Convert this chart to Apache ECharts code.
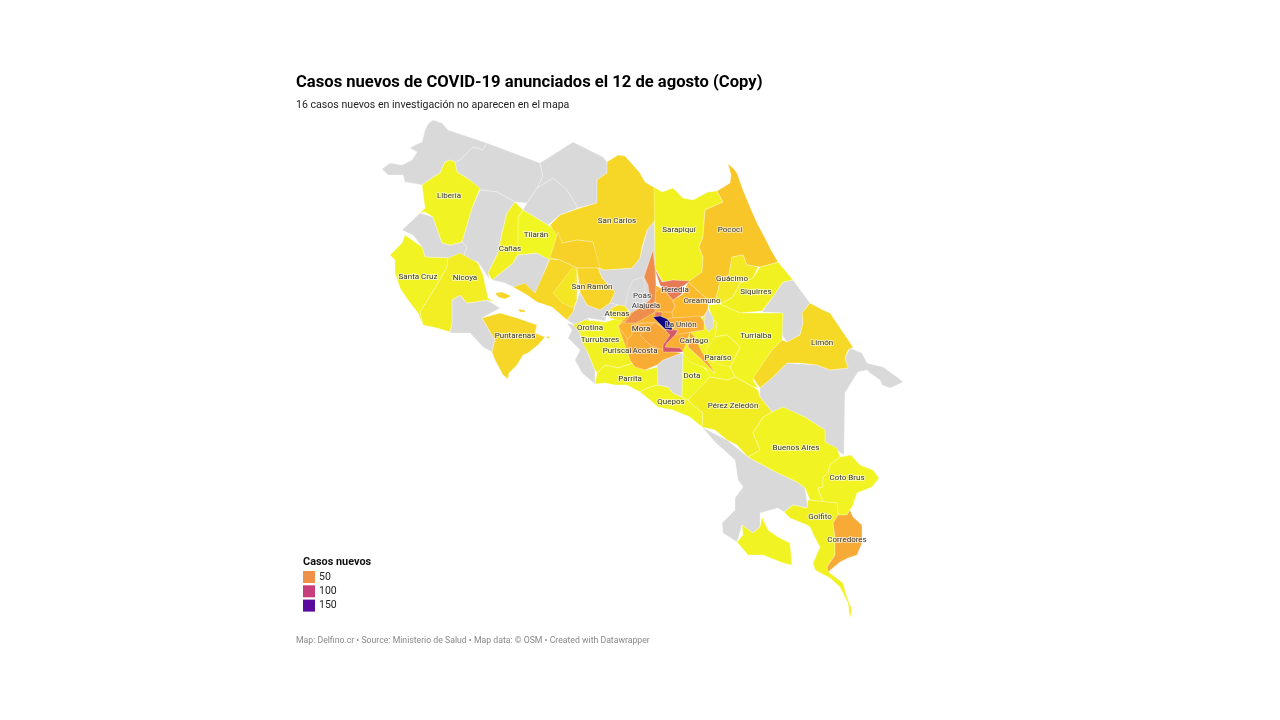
<!DOCTYPE html>
<html>
<head>
<meta charset="utf-8">
<title>Casos nuevos de COVID-19</title>
<script src="https://cdn.jsdelivr.net/npm/echarts@6/dist/echarts.min.js"></script>
<style>
  html, body { margin: 0; background: #fff; }
  #chart { width: 1280px; height: 720px; }
</style>
</head>
<body>
<div id="chart"></div>
<script>
// cases
var cantons = ['Liberia','Santa Cruz','Nicoya','Cañas','Tilarán','San Carlos','Sarapiquí','Pococí','Guácimo','Siquirres',
  'Heredia','Oreamuno','San Ramón','Alajuela','Atenas','Orotina','La Unión','Mora','Turrubares','Cartago',
  'Turrialba','Puriscal','Acosta','Paraíso','Limón','Puntarenas','Parrita','Dota','Quepos','Pérez Zeledón',
  'Buenos Aires','Coto Brus','Golfito','Corredores'];
var cases = [2,2,4,3,1,13,3,19,6,3,
  65,24,14,52,8,4,30,28,2,3,
  2,3,32,3,12,13,2,1,2,5,
  2,2,3,33];
// cantons without a label but with a colour
var otherCantons = ['Esparza','San Mateo','Zarcero','Osa Norte','Jiménez','San José','Desamparados','Vázquez de Coronado','Santa Bárbara','Franja Paraíso','Cartago Norte','Aserrí'];
var otherCases = [13,7,15,2,2,185,35,32,65,35,85,30];
var legendValues = [50,100,150];
var legendColors = ['#f0914a','#c73e7a','#5a0a9c'];
var scaleColors = ['#f0f921','#fcb62c','#f0914a','#df6a60','#c73e7a','#943ea0','#5a0a9c','#1a0a8a','#00007a'];

// hand traced outlines, in page pixels. gray ones first, they lie under the coloured ones
var outlines = {
  'La Cruz': [[382,169],[390,163],[402,165],[412,160],[417,152],[410,148],[415,145],[422,142],[425,130],[428,124],[433,120],[442,123],[448,130],[487,143],[483,150],[473,147],[460,160],[455,162],[450,160],[445,162],[440,173],[432,178],[422,185],[405,182],[403,175],[388,175]],
  'Upala': [[487,143],[540,163],[543,177],[537,188],[527,203],[515,202],[497,192],[480,190],[470,180],[457,172],[455,162],[460,160],[473,147],[483,150]],
  'Guatuso': [[537,188],[553,178],[567,190],[578,208],[560,215],[548,225],[523,210],[527,203]],
  'Los Chiles': [[540,163],[573,142],[603,157],[607,162],[607,173],[597,180],[597,203],[578,208],[567,190],[553,178],[537,188],[543,177]],
  'Bagaces': [[480,190],[497,192],[515,202],[507,213],[502,233],[498,253],[488,273],[490,280],[478,262],[462,260],[467,247],[462,242],[472,208]],
  'Carrillo': [[402,230],[420,213],[433,217],[442,243],[450,245],[462,242],[467,247],[462,260],[448,258],[425,257],[422,247],[413,235]],
  'Abangares': [[492,280],[513,263],[518,255],[537,253],[550,258],[543,275],[545,278],[535,293],[518,287],[513,287],[505,283]],
  'Nandayure': [[452,300],[460,295],[467,303],[475,302],[487,300],[500,308],[482,318],[495,340],[492,352],[483,347],[470,333],[450,333],[452,323]],
  'Grecia': [[598,268],[605,270],[632,268],[640,258],[647,230],[654,220],[656,268],[656,300],[640,312],[632,315],[625,306],[618,305],[610,303],[615,292],[602,278]],
  'Poás': [[633,280],[644,277],[645,292],[642,306],[632,314],[625,306],[628,292]],
  'Garabito': [[567,323],[575,325],[588,318],[592,328],[580,335],[585,343],[588,353],[595,370],[595,384],[582,373],[575,360],[580,350],[568,338],[572,330]],
  'Orotina Norte': [[577,300],[580,292],[587,305],[600,310],[610,303],[618,305],[612,308],[607,313],[605,321],[588,318],[575,325],[567,320],[573,312]],
  'Matina': [[793,280],[810,303],[802,313],[803,323],[800,335],[787,342],[782,335],[782,322],[783,313],[762,312],[772,298],[783,282]],
  'Talamanca': [[760,388],[773,377],[787,363],[817,365],[830,370],[848,368],[845,358],[850,348],[862,353],[867,363],[875,365],[883,367],[890,372],[897,377],[903,382],[895,386],[890,388],[882,385],[880,380],[870,373],[867,370],[858,372],[853,380],[845,393],[844,455],[825,442],[825,430],[805,417],[783,408],[772,412],[760,397]],
  'Osa': [[702,427],[713,433],[727,440],[748,457],[772,470],[797,482],[805,488],[808,508],[793,505],[784,512],[778,508],[760,513],[760,527],[753,533],[742,525],[737,542],[723,533],[722,523],[735,510],[735,498],[743,487],[738,480],[735,460],[715,442]],

  'Liberia': [[450,160],[455,162],[457,172],[470,180],[480,188],[472,208],[462,242],[450,245],[442,243],[433,217],[425,212],[420,213],[425,208],[422,185],[432,178],[440,173],[445,162]],
  'Santa Cruz': [[405,235],[422,247],[425,257],[448,258],[447,267],[437,285],[420,312],[423,325],[418,313],[408,300],[400,288],[395,273],[395,260],[390,255],[402,243]],
  'Nicoya': [[448,258],[460,253],[478,263],[483,275],[488,298],[495,302],[487,300],[475,302],[467,303],[460,295],[452,300],[452,323],[450,332],[437,328],[423,325],[420,312],[437,285],[447,267]],
  'Cañas': [[515,202],[523,210],[518,217],[518,254],[513,263],[492,280],[488,273],[498,253],[502,233],[507,213]],
  'Tilarán': [[523,210],[548,225],[558,232],[562,257],[550,260],[537,253],[518,255],[518,217]],
  'San Carlos': [[607,162],[618,155],[625,156],[640,173],[645,182],[655,188],[655,220],[647,230],[642,247],[640,258],[632,268],[605,270],[598,268],[593,242],[577,240],[562,243],[550,225],[560,215],[580,208],[597,203],[597,180],[607,173]],
  'Zarcero': [[562,243],[577,240],[593,242],[600,268],[577,268],[560,260],[550,258],[558,232]],
  'Esparza': [[513,287],[525,283],[535,293],[543,275],[550,259],[560,260],[577,268],[577,297],[573,312],[567,320],[552,307],[537,302],[527,295]],
  'San Mateo': [[553,293],[572,268],[577,270],[575,288],[577,300],[573,308],[562,303]],
  'San Ramón': [[577,268],[598,268],[602,278],[615,292],[610,303],[600,310],[587,305],[580,292]],
  'Orotina': [[573,325],[585,320],[605,322],[608,323],[608,328],[595,335],[580,333]],
  'Turrubares': [[580,333],[592,328],[606,322],[618,318],[626,322],[628,345],[630,357],[605,357],[603,363],[588,353],[593,347],[582,342]],
  'Atenas': [[607,312],[612,308],[618,305],[625,306],[630,313],[624,322],[618,320],[610,318]],
  'Puriscal': [[582,342],[628,340],[630,357],[633,363],[618,368],[605,365],[597,373],[595,370],[588,353]],
  'Parrita': [[595,384],[597,373],[605,365],[618,368],[633,363],[645,370],[658,367],[658,385],[647,388],[640,392],[627,385],[615,385],[605,383]],
  'Quepos': [[702,427],[690,417],[673,410],[658,407],[650,400],[640,392],[647,388],[658,385],[668,387],[673,393],[682,397],[688,400],[693,405],[703,413]],
  'Tarrazú': [[657,365],[663,360],[683,353],[682,397],[673,393],[668,387],[658,385]],
  'Dota': [[683,353],[688,358],[703,367],[712,375],[700,388],[688,400],[682,397]],
  'Sarapiquí': [[654,187],[662,192],[673,188],[683,198],[693,200],[708,192],[717,191],[723,202],[705,210],[703,237],[699,247],[703,257],[702,272],[689,282],[673,280],[663,282],[655,268]],
  'Pococí': [[728,164],[733,168],[737,173],[743,190],[750,207],[757,223],[765,238],[771,250],[778,262],[772,264],[760,267],[747,265],[743,255],[732,257],[729,275],[720,282],[715,303],[708,300],[688,282],[702,272],[703,257],[699,247],[703,237],[705,210],[723,202],[717,191],[730,183],[731,175]],
  'Guácimo': [[732,257],[743,255],[747,265],[758,267],[753,278],[740,283],[733,297],[722,303],[715,303],[720,282],[729,275]],
  'Siquirres': [[760,267],[772,264],[778,262],[793,280],[783,282],[772,298],[762,311],[740,313],[720,304],[733,297],[740,283],[753,278]],
  'Turrialba': [[708,305],[720,304],[740,313],[783,313],[782,340],[772,350],[753,380],[758,388],[753,387],[735,377],[730,367],[740,347],[727,335],[715,337],[717,323],[712,318]],
  'Limón': [[810,303],[823,310],[830,313],[853,347],[848,350],[845,358],[848,368],[830,370],[817,365],[800,363],[787,363],[773,377],[760,388],[753,378],[772,350],[782,340],[787,342],[800,335],[803,323],[802,313]],
  'Pérez Zeledón': [[688,400],[710,377],[728,380],[735,377],[753,387],[758,390],[760,397],[772,412],[763,417],[753,433],[760,450],[748,457],[737,445],[727,440],[715,430],[702,427],[703,413],[693,405]],
  'Buenos Aires': [[772,412],[783,407],[805,417],[825,430],[825,442],[837,448],[840,457],[830,465],[828,473],[823,477],[823,487],[818,488],[823,502],[810,500],[805,488],[797,482],[778,473],[772,470],[748,457],[760,450],[753,433],[763,417]],
  'Coto Brus': [[840,457],[851,455],[860,465],[873,470],[879,478],[872,487],[857,493],[853,505],[850,510],[847,515],[838,515],[837,503],[823,502],[818,488],[823,487],[823,477],[828,473],[830,465]],
  'Golfito': [[808,500],[837,503],[838,515],[833,523],[835,537],[835,555],[827,567],[830,573],[843,583],[847,597],[852,610],[850,618],[848,603],[840,587],[830,578],[815,570],[813,563],[820,547],[815,538],[810,527],[807,525],[790,518],[784,512],[793,505],[807,508]],
  'Corredores': [[838,515],[847,515],[850,510],[853,517],[862,525],[862,543],[857,555],[848,558],[840,562],[828,572],[827,567],[835,555],[835,537],[833,523]],
  'Osa Norte': [[762,517],[768,530],[778,537],[790,543],[792,565],[783,563],[763,555],[748,555],[737,542],[743,535],[742,525],[753,533],[760,527]],
  'Puntarenas': [[482,318],[500,313],[517,318],[537,325],[535,333],[545,337],[538,345],[528,353],[523,355],[517,365],[509,373],[508,379],[503,375],[495,360],[492,352],[495,340]],
  'Jiménez': [[690,332],[704,316],[712,318],[717,323],[715,337],[727,335],[740,347],[730,367],[735,377],[728,380],[710,377],[700,358],[690,345]],
  'Paraíso': [[715,337],[727,335],[740,347],[730,367],[712,362],[706,350]],
  'Alvarado': [[708,309],[713,317],[714,327],[708,332],[704,323],[705,315]],
  'Cartago': [[672,338],[690,332],[688,347],[700,358],[715,373],[703,367],[690,362],[683,353],[683,350],[668,347]],
  'Franja Paraíso': [[690,332],[695,337],[702,352],[715,373],[700,358],[688,347]],
  'Aserrí': [[655,285],[673,295],[700,316],[704,330],[690,332],[683,352],[663,352],[628,353],[618,326],[630,313],[655,300]],
  'Oreamuno': [[673,300],[683,294],[688,282],[708,300],[708,309],[704,316],[700,317],[673,318],[672,312],[675,306]],
  'La Unión': [[667,319],[673,318],[700,316],[704,322],[704,330],[690,332],[675,335],[678,330],[672,328],[672,325]],
  'Vázquez de Coronado': [[655,292],[662,287],[672,300],[675,306],[672,312],[660,312],[655,308]],
  'Mora': [[618,326],[624,322],[636,323],[647,323],[655,322],[660,325],[640,335],[632,335],[628,340]],
  'Acosta': [[628,353],[630,360],[635,367],[645,370],[657,365],[663,360],[682,353],[663,350],[668,340],[667,333],[660,325],[647,323],[632,325],[632,335],[627,340]],
  'Desamparados': [[655,322],[665,330],[670,335],[668,340],[663,350],[650,345],[640,335]],
  'Heredia': [[654,267],[662,282],[673,280],[690,281],[682,287],[683,293],[673,300],[667,293],[660,285]],
  'Alajuela': [[653,250],[655,268],[656,285],[655,300],[655,312],[645,318],[636,323],[624,323],[632,313],[642,306],[650,300],[648,285],[644,277],[647,268]],
  'Santa Bárbara': [[655,312],[662,312],[662,317],[655,317]],
  'Cartago Norte': [[665,330],[678,330],[675,335],[672,338],[667,343],[665,347],[680,348],[683,352],[663,352],[663,345],[668,338],[670,335]],
  'San José': [[653,317],[660,316],[667,319],[672,325],[672,330],[665,329],[658,322]]
};
// small islands of Puntarenas
var islands = [
  [[495,293],[502,292],[511,296],[505,299],[498,297]],
  [[518,309],[524,310],[526,312],[520,312]],
  [[546,336],[550,337],[548,339]]
];
// where each label sits
var labelSpots = {
  'Liberia':[449,196],'Santa Cruz':[418,277],'Nicoya':[465,278],'Cañas':[510,249],'Tilarán':[536,235],'San Carlos':[617,221],
  'Sarapiquí':[679,230],'Pococí':[730,230],'Guácimo':[732,279],'Siquirres':[756,292],'Heredia':[675,290],'Oreamuno':[702,301],
  'San Ramón':[592,287],'Poás':[642,296],'Alajuela':[646,306],'Atenas':[617,314],'Orotina':[590,328],'La Unión':[681,325],
  'Mora':[641,329],'Turrubares':[600,340],'Cartago':[694,341],'Turrialba':[756,336],'Puriscal':[617,351],'Acosta':[645,351],
  'Paraíso':[718,358],'Limón':[822,343],'Puntarenas':[515,336],'Parrita':[630,379],'Dota':[692,376],'Quepos':[671,402],
  'Pérez Zeledón':[733,406],'Buenos Aires':[796,448],'Coto Brus':[847,478],'Golfito':[820,517],'Corredores':[847,540]
};

function toGeo(p) { return [p[0], 720 - p[1]]; }
function ring(pts) {
  var r = pts.map(toGeo);
  r.push(r[0]);
  return r;
}

var features = Object.keys(outlines).map(function (name) {
  var polys = [[ring(outlines[name])]];
  if (name === 'Puntarenas') {
    islands.forEach(function (isl) { polys.push([ring(isl)]); });
  }
  var props = { name: name };
  if (labelSpots[name]) props.cp = toGeo(labelSpots[name]);
  return {
    type: 'Feature',
    properties: props,
    geometry: { type: 'MultiPolygon', coordinates: polys }
  };
});
echarts.registerMap('costarica', { type: 'FeatureCollection', features: features });

var mapData = [];
cantons.forEach(function (n, i) { mapData.push({ name: n, value: cases[i] }); });
otherCantons.forEach(function (n, i) { mapData.push({ name: n, value: otherCases[i] }); });

var font = 'Roboto';
var legendItems = [];
legendValues.forEach(function (v, i) {
  var y = 571 + i * 14.3;
  legendItems.push({ type: 'rect', left: 303, top: y, shape: { width: 12, height: 12 }, style: { fill: legendColors[i] } });
  legendItems.push({ type: 'text', left: 319, top: y + 0.5, style: { text: String(v), font: '10.5px ' + font, fill: '#222' } });
});

var chart = echarts.init(document.getElementById('chart'));
chart.setOption({
  backgroundColor: '#fff',
  animation: false,
  title: [
    { text: 'Casos nuevos de COVID-19 anunciados el 12 de agosto (Copy)', left: 296, top: 74,
      padding: 0, textStyle: { fontFamily: font, fontSize: 16.6, fontWeight: 'bold', color: '#000' } },
    { text: '16 casos nuevos en investigación no aparecen en el mapa', left: 296, top: 99.5,
      padding: 0, textStyle: { fontFamily: font, fontSize: 10.6, fontWeight: 'normal', color: '#222' } },
    { text: 'Casos nuevos', left: 303, top: 556.5,
      padding: 0, textStyle: { fontFamily: font, fontSize: 10.9, fontWeight: 'bold', color: '#111' } },
    { text: 'Map: Delfino.cr • Source: Ministerio de Salud • Map data: © OSM • Created with Datawrapper', left: 296, top: 636.5,
      padding: 0, textStyle: { fontFamily: font, fontSize: 8.7, fontWeight: 'normal', color: '#888' } }
  ],
  visualMap: {
    show: false, type: 'continuous', min: 0, max: 200, seriesIndex: 0,
    inRange: { color: scaleColors }
  },
  series: [{
    type: 'map',
    map: 'costarica',
    aspectScale: 1,
    roam: false,
    silent: true,
    left: 0, top: 0, width: 1280, height: 720,
    boundingCoords: [[0, 720], [1280, 0]],
    data: mapData,
    itemStyle: { areaColor: '#d9d9d9', borderColor: 'rgba(255,255,255,0.5)', borderWidth: 0.6 },
    label: {
      show: true,
      fontFamily: font, fontSize: 8, color: '#333',
      textBorderColor: 'rgba(255,255,255,0.6)', textBorderWidth: 2,
      formatter: function (p) { return labelSpots[p.name] ? p.name : ''; }
    },
    emphasis: { disabled: true },
    select: { disabled: true }
  }],
  graphic: legendItems
});
</script>
</body>
</html>
